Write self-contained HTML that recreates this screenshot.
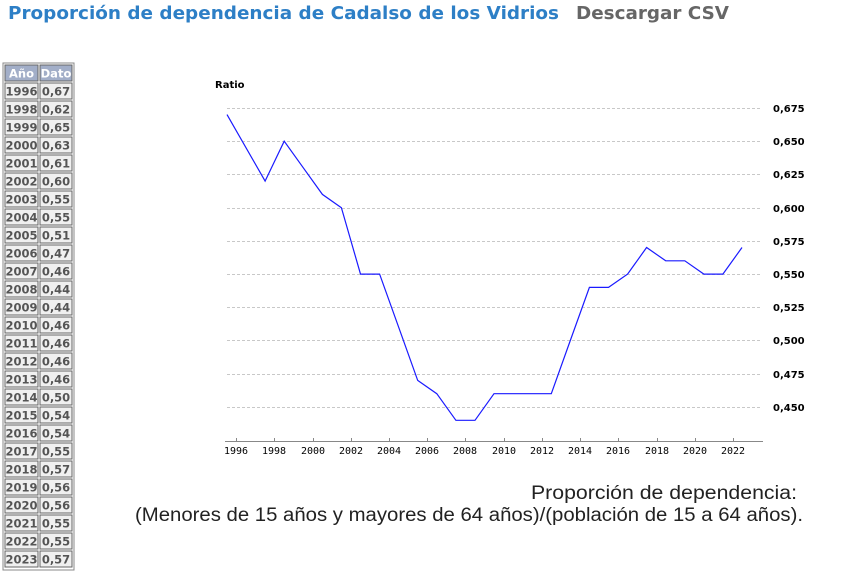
<!DOCTYPE html>
<html><head><meta charset="utf-8"><style>
body{margin:0;background:#fff;width:841px;height:576px;overflow:hidden;}
svg{display:block}
</style></head><body>
<svg width="841" height="576" xmlns="http://www.w3.org/2000/svg">
<text x="8" y="19" font-family="DejaVu Sans, sans-serif" font-weight="bold" font-size="18" fill="#2d7fc6" textLength="551" lengthAdjust="spacingAndGlyphs">Proporción de dependencia de Cadalso de los Vidrios</text>
<text x="576" y="19" font-family="DejaVu Sans, sans-serif" font-weight="bold" font-size="18" fill="#666" textLength="153" lengthAdjust="spacingAndGlyphs">Descargar CSV</text>
<g font-family="DejaVu Sans, sans-serif" font-weight="bold" font-size="11.5" fill="#555">
<rect x="3" y="63" width="71" height="507" fill="none" stroke="#888"/>
<rect x="5" y="65" width="33" height="16" fill="#a2aec8" stroke="#666"/>
<rect x="40" y="65" width="32" height="16" fill="#a2aec8" stroke="#666"/>
<text x="21.5" y="77.5" text-anchor="middle" fill="#fff">Año</text>
<text x="56" y="77.5" text-anchor="middle" fill="#fff">Dato</text>
<g id="rows"></g>
</g>
<g font-family="DejaVu Sans, sans-serif" font-size="10" fill="#000" font-weight="bold">
<text x="215" y="88">Ratio</text>
</g>
<g stroke="#c8c8c8" stroke-dasharray="3,2" stroke-width="1">
<line x1="227" x2="762" y1="108.5" y2="108.5"/>
<line x1="227" x2="762" y1="141.5" y2="141.5"/>
<line x1="227" x2="762" y1="174.5" y2="174.5"/>
<line x1="227" x2="762" y1="208.5" y2="208.5"/>
<line x1="227" x2="762" y1="241.5" y2="241.5"/>
<line x1="227" x2="762" y1="274.5" y2="274.5"/>
<line x1="227" x2="762" y1="307.5" y2="307.5"/>
<line x1="227" x2="762" y1="340.5" y2="340.5"/>
<line x1="227" x2="762" y1="374.5" y2="374.5"/>
<line x1="227" x2="762" y1="407.5" y2="407.5"/>
</g>
<g font-family="DejaVu Sans, sans-serif" font-size="10" font-weight="bold" fill="#000">
<text x="773" y="112">0,675</text><text x="773" y="145">0,650</text><text x="773" y="178">0,625</text>
<text x="773" y="212">0,600</text><text x="773" y="245">0,575</text><text x="773" y="278">0,550</text>
<text x="773" y="311">0,525</text><text x="773" y="344">0,500</text><text x="773" y="378">0,475</text>
<text x="773" y="411">0,450</text>
</g>
<line x1="225" x2="763" y1="441.5" y2="441.5" stroke="#888"/>
<g stroke="#888"><line x1="236.5" x2="236.5" y1="438" y2="442"/><line x1="274.5" x2="274.5" y1="438" y2="442"/><line x1="313.5" x2="313.5" y1="438" y2="442"/><line x1="351.5" x2="351.5" y1="438" y2="442"/><line x1="389.5" x2="389.5" y1="438" y2="442"/><line x1="427.5" x2="427.5" y1="438" y2="442"/><line x1="465.5" x2="465.5" y1="438" y2="442"/><line x1="504.5" x2="504.5" y1="438" y2="442"/><line x1="542.5" x2="542.5" y1="438" y2="442"/><line x1="580.5" x2="580.5" y1="438" y2="442"/><line x1="618.5" x2="618.5" y1="438" y2="442"/><line x1="657.5" x2="657.5" y1="438" y2="442"/><line x1="695.5" x2="695.5" y1="438" y2="442"/><line x1="733.5" x2="733.5" y1="438" y2="442"/></g>
<g font-family="DejaVu Sans Mono, monospace" font-size="10" fill="#000" text-anchor="middle">
<text x="236" y="454">1996</text><text x="274" y="454">1998</text><text x="313" y="454">2000</text><text x="351" y="454">2002</text><text x="389" y="454">2004</text><text x="427" y="454">2006</text><text x="465" y="454">2008</text><text x="504" y="454">2010</text><text x="542" y="454">2012</text><text x="580" y="454">2014</text><text x="618" y="454">2016</text><text x="657" y="454">2018</text><text x="695" y="454">2020</text><text x="733" y="454">2022</text>
</g>
<polyline fill="none" stroke="#1a1aff" stroke-width="1.2" points="227,114.6 265.1,181.1 284.2,141.2 303.3,167.8 322.4,194.4 341.4,207.7 360.5,274.1 379.6,274.1 398.7,327.3 417.7,380.4 436.8,393.7 455.9,420.3 475,420.3 494,393.7 513.1,393.7 532.2,393.7 551.3,393.7 570.3,340.5 589.4,287.4 608.5,287.4 627.6,274.1 646.6,247.5 665.7,260.8 684.8,260.8 703.9,274.1 722.9,274.1 742,247.5"/>
<g font-family="Liberation Sans, sans-serif" font-size="19" fill="#222" text-anchor="end">
<text x="797" y="499" textLength="266" lengthAdjust="spacingAndGlyphs">Proporción de dependencia:</text>
<text x="803" y="521" textLength="668" lengthAdjust="spacingAndGlyphs">(Menores de 15 años y mayores de 64 años)/(población de 15 a 64 años).</text>
</g>
<g font-family="DejaVu Sans, sans-serif" font-weight="bold" font-size="11.5" fill="#555">
<rect x="5" y="83" width="33" height="16" fill="#f0f0f0" stroke="#666"/><rect x="40" y="83" width="32" height="16" fill="#f0f0f0" stroke="#666"/><text x="21.5" y="95.5" text-anchor="middle">1996</text><text x="56" y="95.5" text-anchor="middle">0,67</text>
<rect x="5" y="101" width="33" height="16" fill="#f0f0f0" stroke="#666"/><rect x="40" y="101" width="32" height="16" fill="#f0f0f0" stroke="#666"/><text x="21.5" y="113.5" text-anchor="middle">1998</text><text x="56" y="113.5" text-anchor="middle">0,62</text>
<rect x="5" y="119" width="33" height="16" fill="#f0f0f0" stroke="#666"/><rect x="40" y="119" width="32" height="16" fill="#f0f0f0" stroke="#666"/><text x="21.5" y="131.5" text-anchor="middle">1999</text><text x="56" y="131.5" text-anchor="middle">0,65</text>
<rect x="5" y="137" width="33" height="16" fill="#f0f0f0" stroke="#666"/><rect x="40" y="137" width="32" height="16" fill="#f0f0f0" stroke="#666"/><text x="21.5" y="149.5" text-anchor="middle">2000</text><text x="56" y="149.5" text-anchor="middle">0,63</text>
<rect x="5" y="155" width="33" height="16" fill="#f0f0f0" stroke="#666"/><rect x="40" y="155" width="32" height="16" fill="#f0f0f0" stroke="#666"/><text x="21.5" y="167.5" text-anchor="middle">2001</text><text x="56" y="167.5" text-anchor="middle">0,61</text>
<rect x="5" y="173" width="33" height="16" fill="#f0f0f0" stroke="#666"/><rect x="40" y="173" width="32" height="16" fill="#f0f0f0" stroke="#666"/><text x="21.5" y="185.5" text-anchor="middle">2002</text><text x="56" y="185.5" text-anchor="middle">0,60</text>
<rect x="5" y="191" width="33" height="16" fill="#f0f0f0" stroke="#666"/><rect x="40" y="191" width="32" height="16" fill="#f0f0f0" stroke="#666"/><text x="21.5" y="203.5" text-anchor="middle">2003</text><text x="56" y="203.5" text-anchor="middle">0,55</text>
<rect x="5" y="209" width="33" height="16" fill="#f0f0f0" stroke="#666"/><rect x="40" y="209" width="32" height="16" fill="#f0f0f0" stroke="#666"/><text x="21.5" y="221.5" text-anchor="middle">2004</text><text x="56" y="221.5" text-anchor="middle">0,55</text>
<rect x="5" y="227" width="33" height="16" fill="#f0f0f0" stroke="#666"/><rect x="40" y="227" width="32" height="16" fill="#f0f0f0" stroke="#666"/><text x="21.5" y="239.5" text-anchor="middle">2005</text><text x="56" y="239.5" text-anchor="middle">0,51</text>
<rect x="5" y="245" width="33" height="16" fill="#f0f0f0" stroke="#666"/><rect x="40" y="245" width="32" height="16" fill="#f0f0f0" stroke="#666"/><text x="21.5" y="257.5" text-anchor="middle">2006</text><text x="56" y="257.5" text-anchor="middle">0,47</text>
<rect x="5" y="263" width="33" height="16" fill="#f0f0f0" stroke="#666"/><rect x="40" y="263" width="32" height="16" fill="#f0f0f0" stroke="#666"/><text x="21.5" y="275.5" text-anchor="middle">2007</text><text x="56" y="275.5" text-anchor="middle">0,46</text>
<rect x="5" y="281" width="33" height="16" fill="#f0f0f0" stroke="#666"/><rect x="40" y="281" width="32" height="16" fill="#f0f0f0" stroke="#666"/><text x="21.5" y="293.5" text-anchor="middle">2008</text><text x="56" y="293.5" text-anchor="middle">0,44</text>
<rect x="5" y="299" width="33" height="16" fill="#f0f0f0" stroke="#666"/><rect x="40" y="299" width="32" height="16" fill="#f0f0f0" stroke="#666"/><text x="21.5" y="311.5" text-anchor="middle">2009</text><text x="56" y="311.5" text-anchor="middle">0,44</text>
<rect x="5" y="317" width="33" height="16" fill="#f0f0f0" stroke="#666"/><rect x="40" y="317" width="32" height="16" fill="#f0f0f0" stroke="#666"/><text x="21.5" y="329.5" text-anchor="middle">2010</text><text x="56" y="329.5" text-anchor="middle">0,46</text>
<rect x="5" y="335" width="33" height="16" fill="#f0f0f0" stroke="#666"/><rect x="40" y="335" width="32" height="16" fill="#f0f0f0" stroke="#666"/><text x="21.5" y="347.5" text-anchor="middle">2011</text><text x="56" y="347.5" text-anchor="middle">0,46</text>
<rect x="5" y="353" width="33" height="16" fill="#f0f0f0" stroke="#666"/><rect x="40" y="353" width="32" height="16" fill="#f0f0f0" stroke="#666"/><text x="21.5" y="365.5" text-anchor="middle">2012</text><text x="56" y="365.5" text-anchor="middle">0,46</text>
<rect x="5" y="371" width="33" height="16" fill="#f0f0f0" stroke="#666"/><rect x="40" y="371" width="32" height="16" fill="#f0f0f0" stroke="#666"/><text x="21.5" y="383.5" text-anchor="middle">2013</text><text x="56" y="383.5" text-anchor="middle">0,46</text>
<rect x="5" y="389" width="33" height="16" fill="#f0f0f0" stroke="#666"/><rect x="40" y="389" width="32" height="16" fill="#f0f0f0" stroke="#666"/><text x="21.5" y="401.5" text-anchor="middle">2014</text><text x="56" y="401.5" text-anchor="middle">0,50</text>
<rect x="5" y="407" width="33" height="16" fill="#f0f0f0" stroke="#666"/><rect x="40" y="407" width="32" height="16" fill="#f0f0f0" stroke="#666"/><text x="21.5" y="419.5" text-anchor="middle">2015</text><text x="56" y="419.5" text-anchor="middle">0,54</text>
<rect x="5" y="425" width="33" height="16" fill="#f0f0f0" stroke="#666"/><rect x="40" y="425" width="32" height="16" fill="#f0f0f0" stroke="#666"/><text x="21.5" y="437.5" text-anchor="middle">2016</text><text x="56" y="437.5" text-anchor="middle">0,54</text>
<rect x="5" y="443" width="33" height="16" fill="#f0f0f0" stroke="#666"/><rect x="40" y="443" width="32" height="16" fill="#f0f0f0" stroke="#666"/><text x="21.5" y="455.5" text-anchor="middle">2017</text><text x="56" y="455.5" text-anchor="middle">0,55</text>
<rect x="5" y="461" width="33" height="16" fill="#f0f0f0" stroke="#666"/><rect x="40" y="461" width="32" height="16" fill="#f0f0f0" stroke="#666"/><text x="21.5" y="473.5" text-anchor="middle">2018</text><text x="56" y="473.5" text-anchor="middle">0,57</text>
<rect x="5" y="479" width="33" height="16" fill="#f0f0f0" stroke="#666"/><rect x="40" y="479" width="32" height="16" fill="#f0f0f0" stroke="#666"/><text x="21.5" y="491.5" text-anchor="middle">2019</text><text x="56" y="491.5" text-anchor="middle">0,56</text>
<rect x="5" y="497" width="33" height="16" fill="#f0f0f0" stroke="#666"/><rect x="40" y="497" width="32" height="16" fill="#f0f0f0" stroke="#666"/><text x="21.5" y="509.5" text-anchor="middle">2020</text><text x="56" y="509.5" text-anchor="middle">0,56</text>
<rect x="5" y="515" width="33" height="16" fill="#f0f0f0" stroke="#666"/><rect x="40" y="515" width="32" height="16" fill="#f0f0f0" stroke="#666"/><text x="21.5" y="527.5" text-anchor="middle">2021</text><text x="56" y="527.5" text-anchor="middle">0,55</text>
<rect x="5" y="533" width="33" height="16" fill="#f0f0f0" stroke="#666"/><rect x="40" y="533" width="32" height="16" fill="#f0f0f0" stroke="#666"/><text x="21.5" y="545.5" text-anchor="middle">2022</text><text x="56" y="545.5" text-anchor="middle">0,55</text>
<rect x="5" y="551" width="33" height="16" fill="#f0f0f0" stroke="#666"/><rect x="40" y="551" width="32" height="16" fill="#f0f0f0" stroke="#666"/><text x="21.5" y="563.5" text-anchor="middle">2023</text><text x="56" y="563.5" text-anchor="middle">0,57</text>
</g>
</svg>
</body></html>
